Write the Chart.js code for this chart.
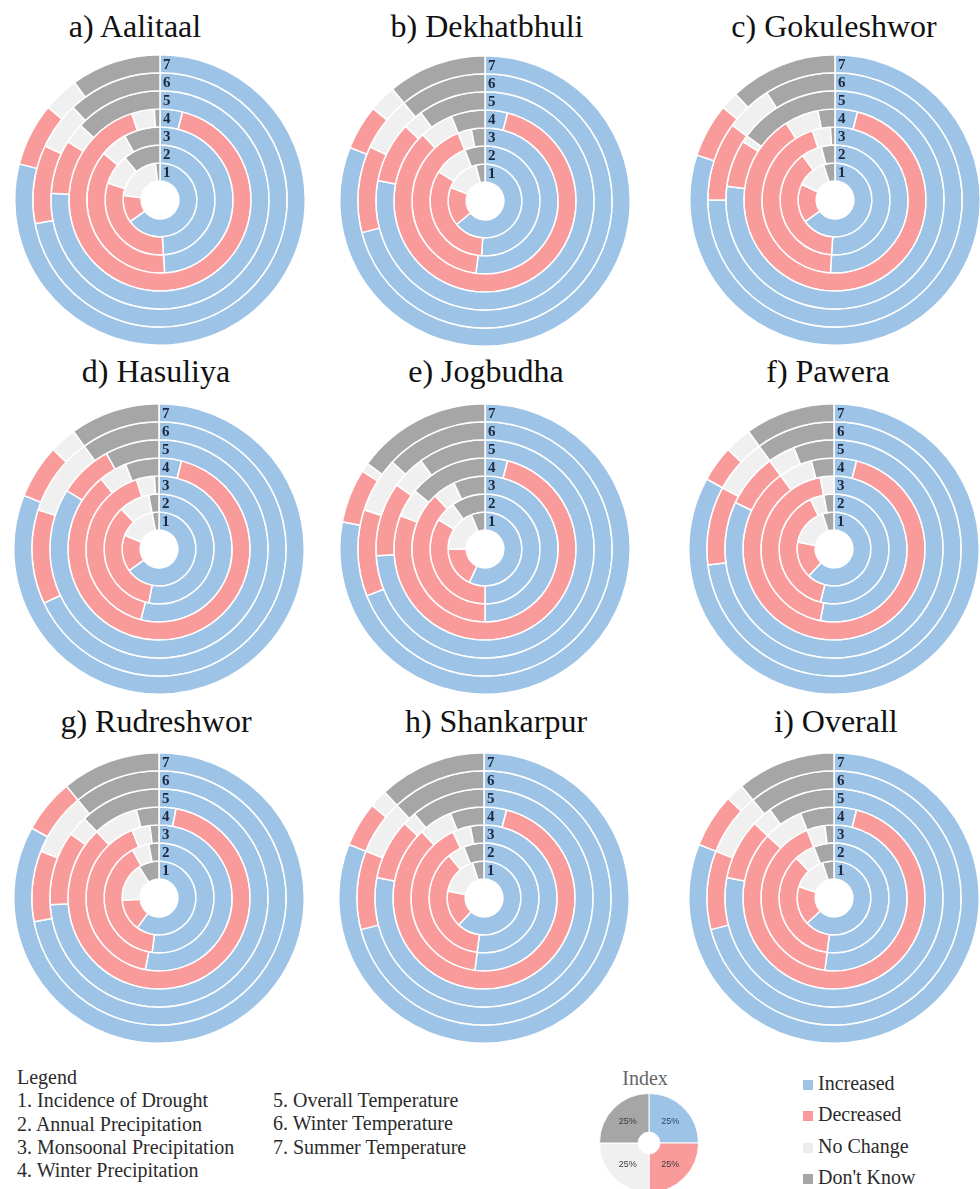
<!DOCTYPE html>
<html>
<head>
<meta charset="utf-8">
<script src="https://cdn.jsdelivr.net/npm/chart.js@4.4.1/dist/chart.umd.min.js"></script>
<style>
  body { margin: 0; background: #fff; }
  #page { position: relative; width: 980px; height: 1189px; overflow: hidden; font-family: "Liberation Serif", "DejaVu Serif", serif; }
  .title { position: absolute; font-size: 32px; line-height: 32px; color: #111; white-space: nowrap; transform: translateX(-50%); }
  .ring { position: absolute; }
  .legend { position: absolute; font-size: 20px; line-height: 23.3px; color: #2b2b2b; white-space: nowrap; }
  .keys { position: absolute; font-size: 20px; line-height: 31.3px; color: #2b2b2b; white-space: nowrap; }
  .sw { display: inline-block; width: 10px; height: 10px; margin-right: 5px; }
  #indexTitle { position: absolute; left: 645px; top: 1067px; transform: translateX(-50%); font-size: 20px; line-height: 23.3px; color: #666; }
</style>
</head>
<body>
<div id="page"></div>
<script>
/* ── Categories ── */
const villages = ['a) Aalitaal', 'b) Dekhatbhuli', 'c) Gokuleshwor', 'd) Hasuliya', 'e) Jogbudha',
                  'f) Pawera', 'g) Rudreshwor', 'h) Shankarpur', 'i) Overall'];
const responses = ['Increased', 'Decreased', 'No Change', "Don't Know"];
const indicators = ['Incidence of Drought', 'Annual Precipitation', 'Monsoonal Precipitation',
                    'Winter Precipitation', 'Overall Temperature', 'Winter Temperature', 'Summer Temperature'];
const ringNumbers = ['1', '2', '3', '4', '5', '6', '7'];

/* ── % of respondents, one row per indicator (1 = innermost) : [Inc, Dec, NoChange, DontKnow] ── */
const aalitaal    = [[65,12,21,2],[49,31,9,11],[49,37,6,8],[4,91,4,1],[76,8,3,13],[72,10,6,12],[79,7,4,10]];
const dekhatbhuli = [[64,17,15,4],[51,33,10,6],[52,42,3,3],[4,84,6,6],[78,9,3,10],[71,11,7,11],[81,5,3,11]];
const gokuleshwor = [[65,17,13,5],[51,39,6,4],[51,44,4,1],[4,87,6,3],[77,7,1,15],[75,10,6,9],[80,6,2,12]];
const hasuliya    = [[65,16,16,3],[53,35,9,3],[54,41,4,1],[4,85,5,6],[84,8,0,8],[68,12,10,10],[81,6,3,10]];
const jogbudha    = [[57,18,19,6],[50,34,6,10],[50,38,5,7],[4,77,5,14],[74,11,5,10],[69,11,7,13],[78,6,1,15]];
const pawera      = [[62,16,17,5],[54,39,4,3],[53,44,3,0],[4,86,6,4],[82,8,4,6],[73,10,7,10],[83,4,3,10]];
const rudreshwor  = [[60,14,17,9],[52,40,5,3],[53,41,4,2],[3,85,8,4],[74,11,3,12],[72,9,8,11],[83,6,0,11]];
const shankarpur  = [[62,16,17,5],[52,37,5,6],[52,41,4,3],[4,84,6,6],[78,9,2,11],[71,10,7,12],[81,5,2,12]];
const overall     = [[63,17,15,5],[52,36,6,6],[52,42,4,2],[4,83,7,6],[78,9,3,10],[71,10,8,11],[81,6,2,11]];
const villageData = [aalitaal, dekhatbhuli, gokuleshwor, hasuliya, jogbudha, pawera, rudreshwor, shankarpur, overall];

const indexValues = [25, 25, 25, 25];

/* ── Layout (page pixels) ── */
const COLORS = ['#9dc3e6', '#f99b9b', '#f0f0f0', '#a6a6a6'];
const centers = [[160,200],[485,201],[835,200],[159,549],[485,549],[834,549],[159,898],[484,898],[834,898]];
const titlePos = [[135,10],[487,10],[834,10],[156,355],[486,355],[828,355],[156,705],[496,705],[836,705]];
const SIZE = 292;

const page = document.getElementById('page');

/* ── Plugin : numéros des anneaux ── */
const ringLabels = {
  id: 'ringLabels',
  afterDatasetsDraw(chart) {
    const ctx = chart.ctx;
    ctx.save();
    ctx.font = 'bold 15px "Liberation Serif"';
    ctx.fillStyle = '#1c2940';
    ctx.textAlign = 'left';
    ctx.textBaseline = 'middle';
    chart.data.datasets.forEach((ds, i) => {
      const arc = chart.getDatasetMeta(i).data[0];
      const r = (arc.innerRadius + arc.outerRadius) / 2;
      ctx.fillText(ds.label, arc.x + 3, arc.y - r + 1);
    });
    ctx.restore();
  }
};

/* ── Plugin : pourcentages de l'index ── */
const pctLabels = {
  id: 'pctLabels',
  afterDatasetsDraw(chart) {
    const ctx = chart.ctx;
    const meta = chart.getDatasetMeta(0);
    ctx.save();
    ctx.font = '9px "Liberation Sans"';
    ctx.textAlign = 'center';
    ctx.textBaseline = 'middle';
    meta.data.forEach((arc, j) => {
      const p = arc.getCenterPoint();
      ctx.fillStyle = j === 0 ? '#2d4a6a' : '#3a3a3a';
      ctx.fillText(chart.data.datasets[0].data[j] + '%', p.x, p.y);
    });
    ctx.restore();
  }
};

function addCanvas(cx, cy, size) {
  const c = document.createElement('canvas');
  c.width = size; c.height = size;
  c.className = 'ring';
  c.style.left = (cx - size / 2) + 'px';
  c.style.top = (cy - size / 2) + 'px';
  page.appendChild(c);
  return c;
}

villages.forEach((name, v) => {
  const t = document.createElement('div');
  t.className = 'title';
  t.textContent = name;
  t.style.left = titlePos[v][0] + 'px';
  t.style.top = titlePos[v][1] + 'px';
  page.appendChild(t);

  const rows = villageData[v];
  // Chart.js: dataset 0 = anneau extérieur -> on part de l'indicateur 7
  const datasets = rows.map((vals, k) => ({
    label: ringNumbers[k],
    data: vals,
    backgroundColor: COLORS,
    borderColor: '#ffffff',
    borderWidth: 1.5,
    hoverBorderWidth: 1.5
  })).reverse();

  const canvas = addCanvas(centers[v][0], centers[v][1], SIZE);
  new Chart(canvas, {
    type: 'doughnut',
    data: { labels: responses, datasets },
    options: {
      responsive: false,
      animation: false,
      devicePixelRatio: 1,
      cutout: '13%',
      layout: { padding: 0 },
      plugins: { legend: { display: false }, tooltip: { enabled: false } }
    },
    plugins: [ringLabels]
  });
});

/* ── Légende des indicateurs ── */
const leg1 = document.createElement('div');
leg1.className = 'legend';
leg1.style.left = '17px';
leg1.style.top = '1066px';
leg1.innerHTML = ['Legend'].concat(indicators.slice(0, 4).map((s, i) => (i + 1) + '. ' + s)).join('<br>');
page.appendChild(leg1);

const leg2 = document.createElement('div');
leg2.className = 'legend';
leg2.style.left = '273px';
leg2.style.top = '1089px';
leg2.innerHTML = indicators.slice(4).map((s, i) => (i + 5) + '. ' + s).join('<br>');
page.appendChild(leg2);

/* ── Index ── */
const it = document.createElement('div');
it.id = 'indexTitle';
it.textContent = 'Index';
page.appendChild(it);

const idx = addCanvas(649, 1143, 100);
new Chart(idx, {
  type: 'doughnut',
  data: { labels: responses, datasets: [{ data: indexValues, backgroundColor: COLORS, borderColor: '#fff', borderWidth: 1, hoverBorderWidth: 1 }] },
  options: {
    responsive: false,
    animation: false,
    devicePixelRatio: 1,
    cutout: '22%',
    plugins: { legend: { display: false }, tooltip: { enabled: false } }
  },
  plugins: [pctLabels]
});

/* ── Légende des réponses ── */
const keys = document.createElement('div');
keys.className = 'keys';
keys.style.left = '803px';
keys.style.top = '1068px';
keys.innerHTML = responses.map((r, i) =>
  `<span class="sw" style="background:${COLORS[i] === '#f0f0f0' ? '#ececec' : COLORS[i]}"></span>${r}`).join('<br>');
page.appendChild(keys);
</script>
</body>
</html>
